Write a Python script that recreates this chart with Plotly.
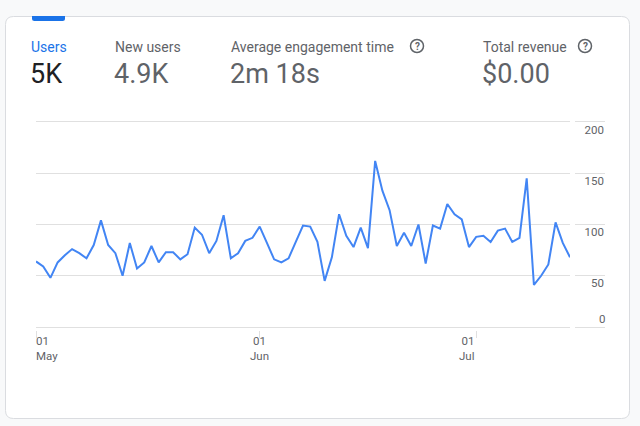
import pandas as pd
import plotly.graph_objects as go

W, H = 640, 426

# daily users, 1 May - 14 Jul
dates = pd.date_range('2024-05-01', '2024-07-14', freq='D')
users = [64, 59, 48, 63, 70, 76, 72, 67, 80, 104,
         80, 72, 50, 82, 57, 63, 79, 63, 73, 73,
         66, 71, 97, 90, 72, 84, 109, 67, 72, 84,
         87, 98, 82, 66, 63, 67, 83, 99, 98, 83,
         45, 68, 110, 89, 78, 97, 77, 162, 133, 114,
         79, 92, 79, 100, 62, 99, 96, 120, 110, 105,
         78, 88, 89, 83, 94, 96, 83, 87, 145, 41,
         50, 61, 102, 82, 68]

month_ticks = ['2024-05-01', '2024-06-01', '2024-07-01']
month_labels = ['01<br>May', '01<br>Jun', '01<br>Jul']
month_anchor = ['left', 'center', 'right']

y_ticks = [0, 50, 100, 150, 200]

metric_names = ['Users', 'New users', 'Average engagement time', 'Total revenue']
metric_values = ['5K', '4.9K', '2m 18s', '$0.00']
metric_help = [False, False, True, True]


def px(x):
    return x / W


def py(y):
    return 1 - y / H


def rounded(x0, y0, x1, y1, r, top=True, bottom=True):
    rt = r if top else 0
    rb = r if bottom else 0
    return (f'M{px(x0 + rt)},{py(y0)} L{px(x1 - rt)},{py(y0)} '
            f'Q{px(x1)},{py(y0)} {px(x1)},{py(y0 + rt)} '
            f'L{px(x1)},{py(y1 - rb)} Q{px(x1)},{py(y1)} {px(x1 - rb)},{py(y1)} '
            f'L{px(x0 + rb)},{py(y1)} Q{px(x0)},{py(y1)} {px(x0)},{py(y1 - rb)} '
            f'L{px(x0)},{py(y0 + rt)} Q{px(x0)},{py(y0)} {px(x0 + rt)},{py(y0)} Z')


FONT = 'Roboto, Arial, sans-serif'
GRID = '#e0e0e0'
TICK = '#5f6368'

fig = go.Figure()
fig.add_trace(go.Scatter(
    x=dates, y=users, mode='lines',
    line=dict(color='#4285f4', width=2),
    hoverinfo='skip', showlegend=False
))
# empty traces so the label column (grid stubs + right labels) is drawn
fig.add_trace(go.Scatter(x=[None], y=[None], xaxis='x2', yaxis='y',
                         mode='lines', showlegend=False, hoverinfo='skip'))
fig.add_trace(go.Scatter(x=[None], y=[None], yaxis='y2',
                         mode='lines', showlegend=False, hoverinfo='skip'))

# pixel frame: value 0 at y=327, 200 at y=122
y0_px, y200_px = 327, 122
s = (y0_px - y200_px) / 200          # px per unit
pad = 3                               # units of headroom so edge gridlines are kept
plot_b = y0_px + pad * s
plot_t = y200_px - pad * s
lab_drop = 7.5 / s                    # labels sit 7.5px below their gridline

shapes = [
    dict(type='path', path=rounded(5.5, 16.5, 629.5, 418.5, 8), xref='paper', yref='paper',
         fillcolor='white', line=dict(color='#dadce0', width=1), layer='below'),
    dict(type='path', path=rounded(32, 16, 65, 21, 2.5, top=False), xref='paper', yref='paper',
         fillcolor='#1a73e8', line=dict(width=0), layer='below'),
]

annotations = []
mx = [29, 113, 229, 481]
hx = [None, None, 417, 585]
for i, name in enumerate(metric_names):
    annotations.append(dict(
        text=name, x=px(mx[i]), y=py(47), xref='paper', yref='paper',
        xanchor='left', yanchor='middle', showarrow=False,
        font=dict(family=FONT, size=14, color='#1a73e8' if i == 0 else '#5f6368')))
    annotations.append(dict(
        text=metric_values[i], x=px(mx[i] - 1), y=py(74), xref='paper', yref='paper',
        xanchor='left', yanchor='middle', showarrow=False,
        font=dict(family=FONT, size=27, color='#202124' if i == 0 else '#5f6368')))
    if metric_help[i]:
        shapes.append(dict(type='circle', xref='paper', yref='paper',
                           x0=px(hx[i] - 6.5), x1=px(hx[i] + 6.5),
                           y0=py(46 - 6.5), y1=py(46 + 6.5),
                           line=dict(color='#5f6368', width=1.5)))
        annotations.append(dict(
            text='<b>?</b>', x=px(hx[i]), y=py(46.5), xref='paper', yref='paper',
            xanchor='center', yanchor='middle', showarrow=False,
            font=dict(family=FONT, size=10, color='#5f6368')))

for d, lab, anc in zip(month_ticks, month_labels, month_anchor):
    annotations.append(dict(
        text=lab, x=d, y=py(332), xref='x', yref='paper',
        xanchor=anc, yanchor='top', align=anc, showarrow=False,
        xshift=-2 if anc == 'left' else 0,
        font=dict(family=FONT, size=11.5, color=TICK)))

# the zero label sits above its gridline
annotations.append(dict(
    text=str(y_ticks[0]), x=px(607), y=y_ticks[0], xref='paper', yref='y',
    xanchor='right', yanchor='middle', yshift=8.5, showarrow=False,
    font=dict(family=FONT, size=11.5, color=TICK)))

fig.update_layout(
    width=W, height=H,
    margin=dict(l=0, r=0, t=0, b=0),
    paper_bgcolor='#f8f9fa',
    plot_bgcolor='rgba(0,0,0,0)',
    font=dict(family=FONT, color=TICK),
    shapes=shapes,
    annotations=annotations,
    xaxis=dict(
        domain=[px(36), px(570)],
        range=[dates[0], dates[-1]],
        showgrid=False, zeroline=False, showline=False,
        tickvals=month_ticks, showticklabels=False,
        ticks='outside', ticklen=7, tickcolor=GRID, tickwidth=1,
        automargin=False, fixedrange=True
    ),
    xaxis2=dict(
        domain=[px(575), px(605)], anchor='y', range=[0, 1],
        visible=False, showgrid=False, zeroline=False
    ),
    yaxis=dict(
        domain=[py(plot_b), py(plot_t)],
        range=[-pad, 200 + pad], tickvals=y_ticks,
        showgrid=True, gridcolor=GRID, gridwidth=1,
        zeroline=False, showline=False, showticklabels=False,
        automargin=False, fixedrange=True
    ),
    yaxis2=dict(
        overlaying='y', side='right', anchor='free', position=px(607),
        range=[-pad + lab_drop, 200 + pad + lab_drop],
        tickvals=y_ticks[1:], ticklabelposition='inside',
        showgrid=False, zeroline=False, showline=False, ticks='',
        tickfont=dict(family=FONT, size=11.5, color=TICK),
        automargin=False, fixedrange=True
    ),
)

fig.write_html('out.html', config={'displayModeBar': False},
               post_script="document.body.style.margin='0';")
